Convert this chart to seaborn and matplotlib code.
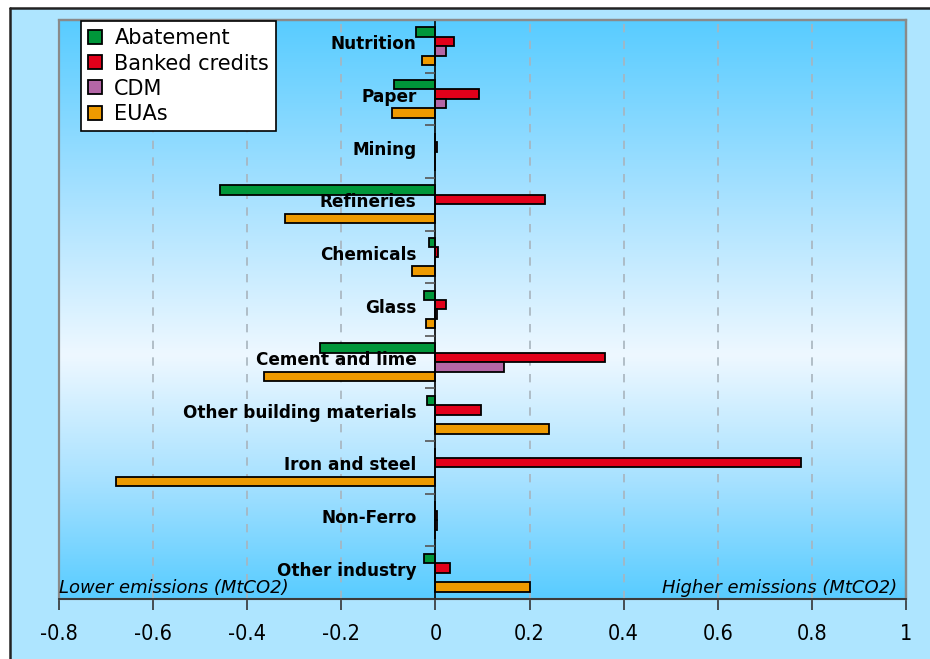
import numpy as np
import pandas as pd
import matplotlib
matplotlib.use("Agg")
import matplotlib.pyplot as plt
from matplotlib.colors import LinearSegmentedColormap
from matplotlib.patches import Rectangle
from matplotlib.lines import Line2D
import seaborn as sns

# ---- data (MtCO2) ----
sectors = ["Nutrition", "Paper", "Mining", "Refineries", "Chemicals", "Glass",
           "Cement and lime", "Other building materials", "Iron and steel",
           "Non-Ferro", "Other industry"]
series = ["Abatement", "Banked credits", "CDM", "EUAs"]
abatement = [-0.041, -0.089, 0.0, -0.458, -0.013, -0.025, -0.245, -0.018, 0.0, 0.0, -0.025]
banked_credits = [0.039, 0.093, 0.004, 0.232, 0.006, 0.023, 0.360, 0.097, 0.776, 0.003, 0.030]
cdm = [0.023, 0.023, 0.0, 0.0, 0.0, 0.004, 0.145, 0.0, 0.0, 0.003, 0.0]
euas = [-0.028, -0.092, 0.0, -0.320, -0.049, -0.020, -0.364, 0.242, -0.679, 0.0, 0.200]
x_ticks = [-0.8, -0.6, -0.4, -0.2, 0, 0.2, 0.4, 0.6, 0.8, 1]
x_tick_labels = ["-0.8", "-0.6", "-0.4", "-0.2", "0", "0.2", "0.4", "0.6", "0.8", "1"]
colors = ["#00963A", "#E2001A", "#B466A6", "#EE9A00"]

df = pd.DataFrame({
    "sector": np.repeat(sectors, len(series)),
    "series": series * len(sectors),
    "value": np.column_stack([abatement, banked_credits, cdm, euas]).ravel(),
})

sns.set_theme(style="white")
plt.rcParams["font.family"] = ["DejaVu Sans"]
plt.rcParams["text.color"] = "black"
plt.rcParams["xtick.color"] = "black"
plt.rcParams["ytick.color"] = "black"

W, H = 930, 659
fig = plt.figure(figsize=(W / 100 + 1e-6, H / 100 + 1e-6), dpi=100)
fig.patch.set_facecolor("#AEE5FF")
fig.patch.set_edgecolor("#AEE5FF")
# white margin above and left of the light blue chart frame, with a dark rule
top_y = 1 - 8 / H
left_x = 10 / W
fig.patches.append(Rectangle((0, top_y), 1, 1 - top_y, transform=fig.transFigure,
                             facecolor="white", edgecolor="none", zorder=-5))
fig.patches.append(Rectangle((0, 0), left_x, 1, transform=fig.transFigure,
                             facecolor="white", edgecolor="none", zorder=-5))
fig.add_artist(Line2D([left_x, 1.01], [top_y, top_y], color="#222222", lw=1.8,
                      transform=fig.transFigure, zorder=-4))
fig.add_artist(Line2D([left_x, left_x], [-0.01, top_y], color="#222222", lw=1.8,
                      transform=fig.transFigure, zorder=-4))

ax = fig.add_axes([59 / W, 1 - 599 / H, 847 / W, 579 / H])
ax.set_zorder(1)
ax.set_facecolor("none")

# vertical gradient for the plot area
grad = LinearSegmentedColormap.from_list(
    "bg", [(0.0, "#58CCFF"), (0.3, "#A6E1FF"), (0.58, "#EEF8FF"), (0.8, "#A6E1FF"), (1.0, "#58CCFF")])
ax.imshow(np.linspace(0, 1, 256).reshape(-1, 1), cmap=grad, aspect="auto",
          extent=(0, 1, 0, 1), transform=ax.transAxes, zorder=0, origin="upper")

sns.barplot(data=df, y="sector", x="value", hue="series", order=sectors,
            hue_order=series, palette=colors, orient="h", width=0.72,
            edgecolor="black", linewidth=1.3, ax=ax, saturation=1, zorder=2)

ax.set_xlim(-0.8, 1.0)
ax.set_ylim(len(sectors) - 0.5, -0.5)

# dashed vertical grid lines behind bars
for xv in x_ticks:
    if xv not in (0, x_ticks[0], x_ticks[-1]):
        ax.axvline(xv, color="#A8B4BE", linestyle=(0, (5, 5)), linewidth=1.2, zorder=1)

# plot frame
for side in ["top", "right"]:
    ax.spines[side].set_color("#8A8A8A")
    ax.spines[side].set_linewidth(1.6)
ax.add_patch(Rectangle((0, 0), 1, 1, transform=ax.transAxes, fill=False,
                       edgecolor="#8A8A8A", linewidth=1.6, zorder=0.8, clip_on=False))
ax.spines["bottom"].set_color("#333333")
ax.spines["bottom"].set_linewidth(1.3)
ax.spines["left"].set_position(("data", 0))
ax.spines["left"].set_color("black")
ax.spines["left"].set_linewidth(1.2)

# x axis
ax.set_xticks(x_ticks)
ax.set_xticklabels(x_tick_labels, fontsize=15.5, fontstretch="condensed")
ax.tick_params(axis="x", direction="out", length=8, width=1.2, color="#333333",
               pad=10, bottom=True)

# y axis: labels slightly above category centres, tick marks between categories
ax.set_yticks(np.arange(len(sectors)) - 0.075)
ax.set_yticklabels(sectors, fontweight="bold", fontsize=12.2)
ax.set_yticks(np.arange(0.5, len(sectors) - 0.5, 1), minor=True)
ax.tick_params(axis="y", which="major", length=0, pad=13.7)
ax.tick_params(axis="y", which="minor", direction="out", length=7, width=1.2,
               color="#555555", left=True)
ax.yaxis.set_zorder(4)

ax.set_xlabel("")
ax.set_ylabel("")

ax.text(0.0, 0.004, "Lower emissions (MtCO2)", transform=ax.transAxes,
        fontsize=13, fontstyle="italic", ha="left", va="bottom", zorder=5)
ax.text(0.989, 0.004, "Higher emissions (MtCO2)", transform=ax.transAxes,
        fontsize=13, fontstyle="italic", ha="right", va="bottom", zorder=5)

handles, labels = ax.get_legend_handles_labels()
leg = ax.legend(handles, labels, loc="upper left",
                bbox_to_anchor=((81 - 59) / 847, 1 - 1 / 579), borderaxespad=0,
                frameon=True, fancybox=False, edgecolor="black", facecolor="white",
                framealpha=1, fontsize=15, handlelength=0.65, handleheight=0.65,
                handletextpad=0.6, labelspacing=0.25, borderpad=0.35)
leg.get_frame().set_linewidth(1.2)
leg.set_zorder(6)

fig.savefig("out.png", dpi=100, facecolor=fig.get_facecolor(),
            edgecolor=fig.get_facecolor())
